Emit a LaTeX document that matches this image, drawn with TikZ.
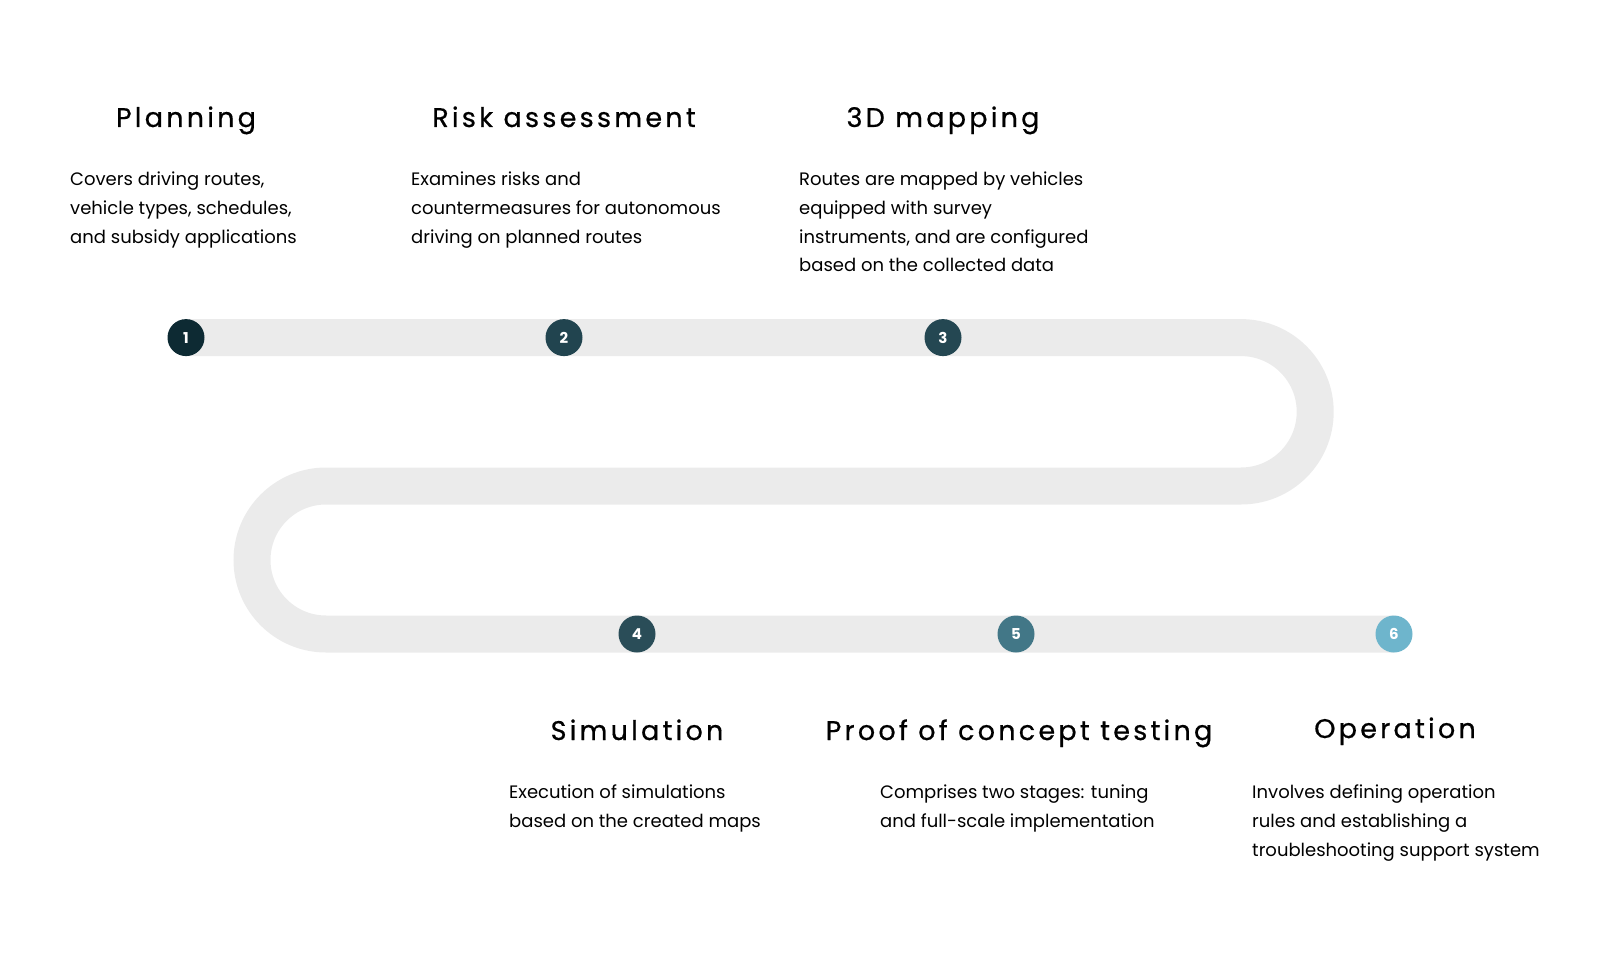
\documentclass[tikz,border=0pt]{standalone}
\usepackage{fontspec}
\setmainfont{Poppins}
\newfontfamily\headfont[LetterSpace=12,FakeBold=0.6]{Poppins}
\definecolor{track}{HTML}{EBEBEB}
\begin{document}
\begin{tikzpicture}[x=1pt,y=-1pt,
  stepdot/.style={circle,minimum size=37pt,inner sep=0pt,text=white,font=\fontsize{15}{15}\selectfont\bfseries},
  head/.style={anchor=base,font=\headfont\fontsize{27}{30}\selectfont},
  body/.style={anchor=north west,align=left,inner sep=0pt,font=\fontsize{18}{28.7}\selectfont}]
\useasboundingbox (0,0) rectangle (1600,960);
\draw[track,line width=37pt] (186,337.6) -- (1241,337.6) arc[start angle=-90,end angle=90,radius=74.2]
  -- (326,486) arc[start angle=-90,end angle=-270,radius=74] -- (1394,634);
\node[stepdot,fill={rgb,255:red,13;green,42;blue,51}] (s1) at (186,337.6) {1};
\node[stepdot,fill={rgb,255:red,33;green,68;blue,79}] (s2) at (564,337.6) {2};
\node[stepdot,fill={rgb,255:red,36;green,71;blue,82}] (s3) at (943,337.6) {3};
\node[stepdot,fill={rgb,255:red,42;green,77;blue,88}] (s4) at (637,634) {4};
\node[stepdot,fill={rgb,255:red,66;green,119;blue,135}] (s5) at (1016,634) {5};
\node[stepdot,fill={rgb,255:red,110;green,181;blue,204}] (s6) at (1394,634) {6};
\node[head] (h1) at (186,127) {Planning};
\node[head] (h2) at (564,127) {Risk assessment};
\node[head] (h3) at (943,127) {3D mapping};
\node[head] (h4) at (637,740) {Simulation};
\node[head] (h5) at (1019,740) {Proof of concept testing};
\node[head] (h6) at (1395,738) {Operation};
\node[body] (b1) at (70,172) {Covers driving routes,\\vehicle types, schedules,\\and subsidy applications};
\node[body] (b2) at (411,172) {Examines risks and\\countermeasures for autonomous\\driving on planned routes};
\node[body] (b3) at (799,172) {Routes are mapped by vehicles\\equipped with survey\\instruments, and are configured\\based on the collected data};
\node[body] (b4) at (509,785) {Execution of simulations\\based on the created maps};
\node[body] (b5) at (880,785) {Comprises two stages: tuning\\and full-scale implementation};
\node[body] (b6) at (1252,785) {Involves defining operation\\rules and establishing a\\troubleshooting support system};
\end{tikzpicture}
\end{document}
